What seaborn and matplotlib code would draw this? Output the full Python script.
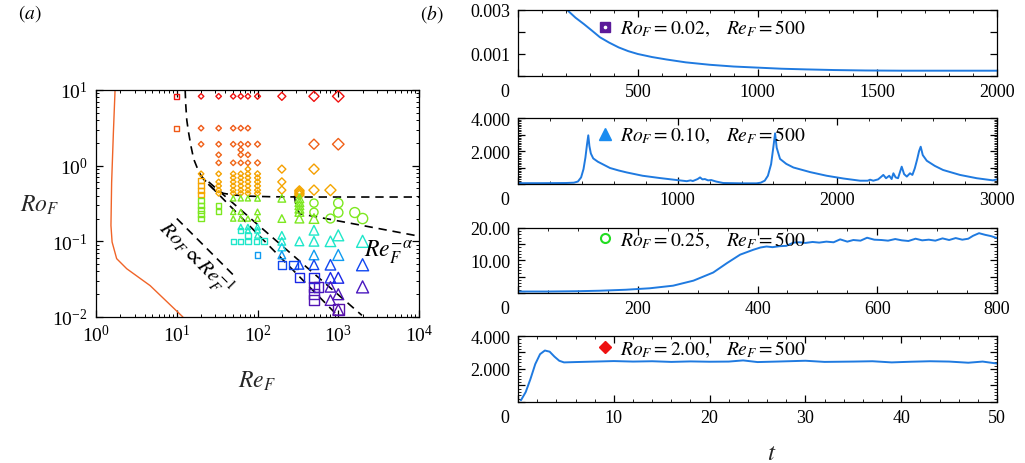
import numpy as np
import pandas as pd
import matplotlib
matplotlib.use("Agg")
import matplotlib.pyplot as plt
import seaborn as sns
from matplotlib.colors import LinearSegmentedColormap
from matplotlib.markers import MarkerStyle
from matplotlib.transforms import Affine2D
from matplotlib.lines import Line2D
from matplotlib.ticker import MultipleLocator, LogLocator, NullFormatter, NullLocator

# ---------------------------------------------------------------- regime map data
diamond_re = [20, 33, 50, 62, 76, 100, 200, 500, 1000,
              20, 33, 50, 62, 76,
              20, 33, 50, 62, 76, 100, 500, 1000,
              62, 33, 62, 76,
              33, 50, 62, 76, 100,
              76, 200, 500,
              20, 33, 50, 62, 76, 100,
              50, 62, 76, 100,
              33, 50, 62, 76, 100, 200,
              33, 50, 62, 76, 100,
              33, 50, 62, 76, 100, 200, 500, 800,
              33, 50, 62, 76, 100,
              330, 330, 330, 330]
diamond_ro = [8.25, 8.25, 8.25, 8.25, 8.25, 8.25, 8.25, 8.25, 8.25,
              3.13, 3.13, 3.13, 3.13, 3.13,
              1.92, 1.92, 1.92, 1.92, 1.92, 1.92, 1.92, 1.92,
              1.62, 1.39, 1.39, 1.39,
              1.09, 1.09, 1.09, 1.09, 1.09,
              0.90, 0.90, 0.90,
              0.78, 0.78, 0.78, 0.78, 0.78, 0.78,
              0.69, 0.69, 0.69, 0.69,
              0.61, 0.61, 0.61, 0.61, 0.61, 0.61,
              0.54, 0.54, 0.54, 0.54, 0.54,
              0.475, 0.475, 0.475, 0.475, 0.475, 0.475, 0.475, 0.475,
              0.43, 0.43, 0.43, 0.43, 0.43,
              0.47, 0.45, 0.43, 0.41]

square_re = [10, 10,
             20, 20, 20, 20,
             20, 20, 20, 20, 20,
             33, 33,
             50, 62, 76, 97, 120,
             62, 76,
             100, 200, 280, 330, 500,
             500, 570, 500, 500, 1000]
square_ro = [8.25, 3.13,
             0.63, 0.54, 0.47, 0.42,
             0.345, 0.30, 0.26, 0.23, 0.198,
             0.30, 0.245,
             0.10, 0.10, 0.10, 0.10, 0.10,
             0.14, 0.12,
             0.066, 0.049, 0.049, 0.033, 0.033,
             0.025, 0.025, 0.020, 0.0167, 0.0125]

circle_re = [500, 500, 800, 1000, 1000, 1600, 2000]
circle_ro = [0.32, 0.242, 0.20, 0.32, 0.24, 0.24, 0.20]

triangle_re = [50, 62, 76, 100, 200, 330,
               330, 330, 330,
               50, 62, 100, 330,
               50, 62, 76, 100, 200, 330, 500,
               62, 76, 100,
               76, 100, 500,
               100, 200, 1000,
               200, 330, 500, 800, 2000,
               200,
               200, 500, 1000,
               330, 500, 800, 2000,
               800, 1000,
               800, 2000,
               1000, 800, 1000]
triangle_ro = [0.37, 0.37, 0.37, 0.37, 0.37, 0.37,
               0.33, 0.30, 0.27,
               0.245, 0.245, 0.245, 0.245,
               0.20, 0.20, 0.20, 0.20, 0.20, 0.20, 0.20,
               0.155, 0.155, 0.155,
               0.14, 0.14, 0.14,
               0.12, 0.12, 0.12,
               0.10, 0.10, 0.10, 0.10, 0.10,
               0.084,
               0.066, 0.066, 0.066,
               0.049, 0.049, 0.049, 0.049,
               0.033, 0.033,
               0.025, 0.025,
               0.020, 0.0167, 0.0125]

# stability boundary (solid) and regime boundaries (dashed)
stab_re = [1.72, 1.64, 1.56, 1.53, 1.58, 1.80, 2.4, 4.67, 11.9]
stab_ro = [10.0, 2.74, 0.60, 0.162, 0.098, 0.059, 0.0434, 0.026, 0.010]

bound1_re = [12.7, 12.9, 13.3, 14.0, 15.0, 16.2, 17.8, 19.5, 22.5, 28.5, 38.0, 50.0,
             80.0, 150, 400, 1500, 10000]
bound1_ro = [10.0, 6.5, 4.0, 2.74, 1.8, 1.22, 0.95, 0.77, 0.62, 0.49, 0.43, 0.41,
             0.395, 0.388, 0.385, 0.385, 0.385]

bound2_re = [285, 300, 331, 1000, 3000, 10000]
bound2_ro = [0.40, 0.30, 0.232, 0.186, 0.149, 0.117]

diagA_re = [19.5, 920]
diagA_ro = [0.74, 0.0112]
diagB_re = [24.8, 1965]
diagB_ro = [0.61, 0.0105]
slope_re = [10, 50]
slope_ro = [0.20, 0.036]

# ---------------------------------------------------------------- time series data
t1 = [205, 240, 275, 310, 342, 380, 420, 460, 500, 560, 620, 700, 800, 900, 1000,
      1100, 1200, 1320, 1450, 1600, 1800, 2000]
v1 = [0.00300, 0.00265, 0.00236, 0.00205, 0.00176, 0.00152, 0.00130, 0.00113, 0.00100,
      0.00086, 0.00075, 0.00062, 0.00051, 0.00043, 0.00038, 0.00033, 0.00030, 0.00027,
      0.00025, 0.00024, 0.00024, 0.00024]

t2 = [0, 150, 300, 350, 375, 395, 410, 422, 432, 440,
      447, 456, 471, 500, 540, 576, 630, 681, 780, 889,
      994, 1057, 1080, 1095, 1110, 1125, 1140, 1155, 1170, 1190,
      1210, 1240, 1285, 1400, 1494, 1520, 1545, 1565, 1585, 1600,
      1610, 1620, 1641, 1680, 1725, 1830, 1933, 2040, 2142, 2190,
      2205, 2225, 2255, 2270, 2288, 2305, 2325, 2340, 2351, 2365,
      2380, 2403, 2418, 2435, 2455, 2470, 2485, 2500, 2512, 2522,
      2535, 2560, 2610, 2662, 2768, 2873, 2975, 3000]
v2 = [0.05, 0.05, 0.06, 0.08, 0.15, 0.4, 0.9, 1.6, 2.4, 2.95,
      2.3, 1.85, 1.55, 1.35, 1.15, 0.97, 0.82, 0.7, 0.5, 0.36,
      0.24, 0.17, 0.22, 0.18, 0.24, 0.3, 0.4, 0.28, 0.3, 0.22,
      0.24, 0.15, 0.06, 0.04, 0.04, 0.08, 0.2, 0.5, 1.2, 2.3,
      3.07, 2.2, 1.52, 1.22, 1.0, 0.72, 0.5, 0.33, 0.2, 0.2,
      0.26, 0.2, 0.28, 0.4, 0.55, 0.35, 0.5, 0.3, 0.65, 0.4,
      0.35, 1.05, 0.6, 0.45, 0.65, 0.55, 0.95, 1.5, 2.0, 2.26,
      1.75, 1.41, 1.1, 0.85, 0.55, 0.35, 0.22, 0.28]

t3 = [0, 50, 100, 137, 180, 220, 259, 293, 326, 349,
      371, 393, 405, 415, 425, 437, 448, 460, 470, 480,
      492, 503, 515, 527, 538, 550, 560, 572, 583, 595,
      607, 618, 630, 641, 652, 664, 675, 686, 697, 709,
      720, 731, 742, 752, 760, 770, 780, 790, 800]
v3 = [0.45, 0.45, 0.55, 0.7, 1.0, 1.45, 2.25, 3.8, 6.3, 9.2,
      11.8, 13.3, 14.0, 14.3, 14.1, 14.4, 14.5, 15.5, 15.6, 15.4,
      15.7, 15.5, 15.8, 15.6, 16.5, 15.8, 16.3, 16.1, 17.0, 16.4,
      16.3, 16.1, 16.6, 16.2, 16.0, 16.7, 16.2, 16.4, 16.1, 16.8,
      16.3, 16.9, 16.4, 16.7, 17.6, 18.4, 17.9, 17.5, 16.9]

t4 = [0.3, 0.8, 1.3, 1.8, 2.3, 2.8, 3.3, 3.8, 4.3, 4.8,
      6, 8, 10, 12, 14, 16, 18, 20, 22, 23.5,
      25, 27, 30, 32, 35, 37, 39, 41, 43, 45,
      47, 48.5, 50]
v4 = [0.1, 0.6, 1.4, 2.3, 2.9, 3.12, 3.05, 2.75, 2.5, 2.4,
      2.42, 2.45, 2.48, 2.45, 2.47, 2.43, 2.46, 2.44, 2.45, 2.52,
      2.42, 2.45, 2.5, 2.43, 2.45, 2.47, 2.4, 2.44, 2.47, 2.45,
      2.38, 2.45, 2.33]

case_labels = [r"$Ro_F=0.02,\ \ \ Re_F=500$", r"$Ro_F=0.10,\ \ \ Re_F=500$",
               r"$Ro_F=0.25,\ \ \ Re_F=500$", r"$Ro_F=2.00,\ \ \ Re_F=500$"]

# ---------------------------------------------------------------- style
sns.set_theme(style="ticks")
plt.rcParams.update({
    "font.family": ["Liberation Serif", "DejaVu Serif"],
    "mathtext.fontset": "stix",
    "axes.edgecolor": "black",
    "axes.linewidth": 0.9,
    "xtick.color": "black",
    "ytick.color": "black",
    "text.color": "black",
})

fig = plt.figure(figsize=(10.25, 4.64), dpi=100)

# ---------------------------------------------------------------- panel (a)
axa = fig.add_axes([0.0937, 0.3147, 0.3151, 0.4892])
axa.set_xscale("log")
axa.set_yscale("log")

sns.lineplot(x=stab_re, y=stab_ro, ax=axa, sort=False, estimator=None,
             color="#f06428", lw=1.0)
dash_kw = dict(ax=axa, sort=False, estimator=None, color="black", lw=1.2,
               dashes=False)
for xs, ys in [(bound1_re, bound1_ro), (bound2_re, bound2_ro),
               (diagA_re, diagA_ro), (diagB_re, diagB_ro), (slope_re, slope_ro)]:
    sns.lineplot(x=xs, y=ys, **dash_kw)
for ln in axa.lines[1:]:
    ln.set_linestyle((0, (5, 3.5)))

regimes = pd.DataFrame({
    "Re": diamond_re + square_re + circle_re + triangle_re,
    "Ro": diamond_ro + square_ro + circle_ro + triangle_ro,
    "shape": (["diamond"] * len(diamond_re) + ["square"] * len(square_re)
              + ["circle"] * len(circle_re) + ["triangle"] * len(triangle_re)),
})
regimes["logRo"] = np.log10(regimes["Ro"])
regimes["logRe"] = np.log10(regimes["Re"])

phase_nodes = [(-1.95, "#5a10a8"), (-1.60, "#4a18c0"), (-1.48, "#1a28e8"),
               (-1.31, "#1048f0"), (-1.18, "#10a0f0"), (-1.08, "#18d0e8"),
               (-1.00, "#20e8c8"), (-0.80, "#20e8c8"), (-0.72, "#7de820"),
               (-0.42, "#7de820"), (-0.39, "#f5a800"), (-0.04, "#f5a000"),
               (0.00, "#f06818"), (0.55, "#f05818"), (0.80, "#f02010"),
               (0.95, "#f01010")]
lo, hi = -1.95, 0.95
phase_cmap = LinearSegmentedColormap.from_list(
    "phase", [((v - lo) / (hi - lo), c) for v, c in phase_nodes])

shape_markers = {
    "diamond": MarkerStyle("D", transform=Affine2D().scale(0.75)),
    "square": "s",
    "circle": MarkerStyle("o", transform=Affine2D().scale(0.85)),
    "triangle": "^",
}
sns.scatterplot(data=regimes, x="Re", y="Ro", hue="logRo", palette=phase_cmap,
                hue_norm=(lo, hi), size="logRe", sizes=(14, 75),
                size_norm=(1.95, 3.3), style="shape", markers=shape_markers,
                legend=False, ax=axa, zorder=3)
pts = axa.collections[-1]
edge = pts.get_facecolors()
pts.set_edgecolors(edge)
pts.set_facecolors("none")
pts.set_linewidths(1.0)

axa.set_xlim(1, 1e4)
axa.set_ylim(0.01, 10)
axa.xaxis.set_major_locator(LogLocator(base=10, numticks=10))
axa.yaxis.set_major_locator(LogLocator(base=10, numticks=10))
for axis in (axa.xaxis, axa.yaxis):
    axis.set_minor_locator(LogLocator(base=10, subs=np.arange(2, 10), numticks=20))
    axis.set_minor_formatter(NullFormatter())
axa.tick_params(which="both", direction="in", top=True, right=True, labelsize=14)
axa.tick_params(which="major", length=5, width=0.9)
axa.tick_params(which="minor", length=2.5, width=0.7)
axa.tick_params(axis="x", pad=5)
axa.tick_params(axis="y", pad=6)

axa.set_xlabel(r"$Re_F$", fontsize=17)
axa.xaxis.set_label_coords(0.498, -0.23)
axa.set_ylabel(r"$Ro_F$", fontsize=17, rotation=0, ha="center", va="center")
axa.yaxis.set_label_coords(-0.175, 0.498)

axa.text(0.308, 0.262, r"$Ro_F \propto Re_F^{-1}$", transform=axa.transAxes,
         rotation=-45, rotation_mode="anchor", ha="center", va="center", fontsize=15)
axa.text(0.905, 0.29, r"$Re_F^{-\alpha}$", transform=axa.transAxes,
         ha="center", va="center", fontsize=17)

fig.text(30 / 1025, 1 - 14 / 464, r"$(a)$", ha="center", va="center", fontsize=14)
fig.text(432 / 1025, 1 - 14 / 464, r"$(b)$", ha="center", va="center", fontsize=14)

# ---------------------------------------------------------------- panel (b)
line_color = "#1f7ae0"
rows = [0.8341, 0.6013, 0.3664, 0.1315]
heights = [0.1422, 0.1422, 0.1401, 0.1422]
series = [(t1, v1), (t2, v2), (t3, v3), (t4, v4)]
xlims = [(0, 2000), (0, 3000), (0, 800), (0, 50)]
xmajor = [500, 1000, 200, 10]
xminor = [100, 200, 50, 2]
ylims = [(0, 0.003), (0, 4), (0, 20), (0, 4)]
yticks = [[0, 0.001, 0.002, 0.003], [0, 1, 2, 3, 4], [0, 5, 10, 15, 20], [0, 1, 2, 3, 4]]
ylabels = [["", "0.001", "", "0.003"], ["", "", "2.000", "", "4.000"],
           ["", "", "10.00", "", "20.00"], ["", "", "2.000", "", "4.000"]]
yminor = [None, 0.1, 1, 0.2]

handles = [
    (Line2D([], [], ls="", marker="s", ms=7.5, color="#5b1a9a"),
     Line2D([], [], ls="", marker="o", ms=1.6, color="white")),
    Line2D([], [], ls="", marker="^", ms=9, color="#1a8cf0"),
    Line2D([], [], ls="", marker="o", ms=6.5, mfc="none", mec="#22dd22", mew=1.5),
    Line2D([], [], ls="", marker="D", ms=6.5, color="#ee1111"),
]
legend_y = [0.727, 0.74, 0.82, 0.81]
tick_fs = 13

for i in range(4):
    ax = fig.add_axes([0.5054, rows[i], 0.4673, heights[i]])
    tt, vv = series[i]
    sns.lineplot(x=tt, y=vv, ax=ax, sort=False, estimator=None, color=line_color, lw=1.4)
    ax.set_xlim(*xlims[i])
    ax.set_ylim(*ylims[i])
    xt = list(range(xlims[i][0], xlims[i][1] + 1, xmajor[i]))
    ax.set_xticks(xt)
    ax.set_xticklabels([""] + [str(v) for v in xt[1:]])
    ax.xaxis.set_minor_locator(MultipleLocator(xminor[i]))
    ax.set_yticks(yticks[i])
    ax.set_yticklabels(ylabels[i])
    if yminor[i] is None:
        ax.yaxis.set_minor_locator(NullLocator())
    else:
        ax.yaxis.set_minor_locator(MultipleLocator(yminor[i]))
    ax.tick_params(which="both", direction="in", top=True, right=True, labelsize=tick_fs)
    ax.tick_params(which="major", length=5, width=0.9)
    ax.tick_params(which="minor", length=2.5, width=0.6)
    ax.tick_params(axis="x", pad=5)
    ax.tick_params(axis="y", pad=5.5)
    ax.set_xlabel("")
    ax.set_ylabel("")
    ax.annotate("0", xy=(0, 0), xycoords="axes fraction", xytext=(-13, -7.5),
                textcoords="offset pixels", ha="center", va="top", fontsize=tick_fs)
    ax.legend(handles=[handles[i]], labels=[case_labels[i]], loc="center left",
              bbox_to_anchor=(0.162, legend_y[i]), frameon=False, fontsize=14,
              handlelength=1.0, handletextpad=0.25, borderpad=0, borderaxespad=0)
    if i == 3:
        ax.set_xlabel(r"$t$", fontsize=18)
        ax.xaxis.set_label_coords(0.53, -0.6)

fig.savefig("out.png", dpi=100)
